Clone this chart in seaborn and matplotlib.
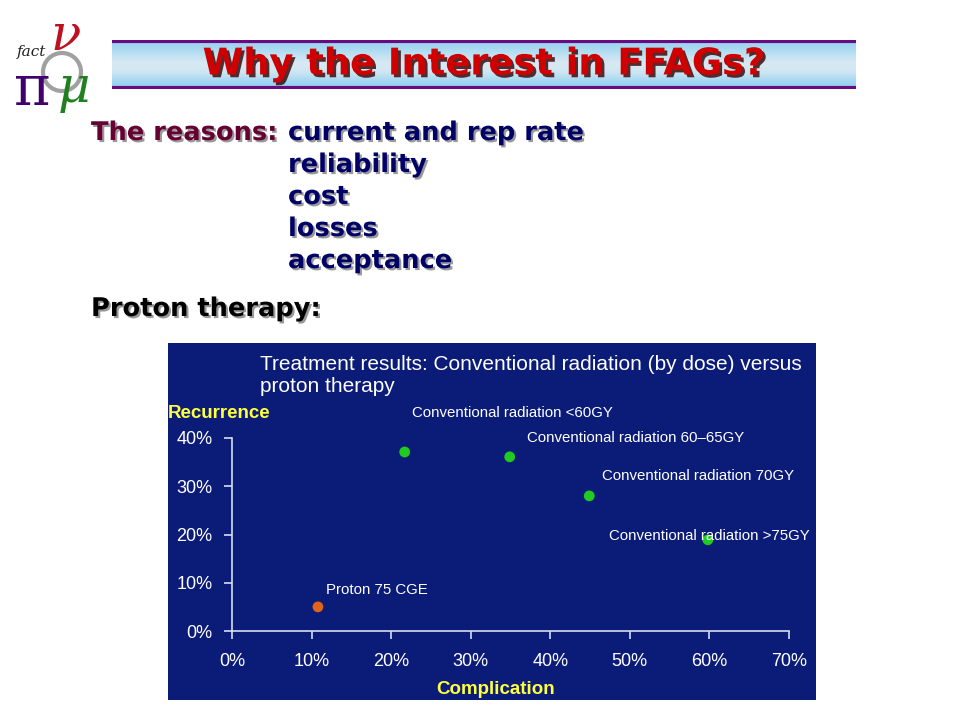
import numpy as np
import pandas as pd
import seaborn as sns
import matplotlib.pyplot as plt
import matplotlib.patheffects as pe
from matplotlib.patches import Circle

# Data
labels = ["Proton 75 CGE", "Conventional radiation <60GY", "Conventional radiation 60\u201365GY",
          "Conventional radiation 70GY", "Conventional radiation >75GY"]
complication = [0.108, 0.217, 0.349, 0.449, 0.598]
recurrence = [0.050, 0.371, 0.361, 0.280, 0.189]
kind = ["Proton", "Conventional", "Conventional", "Conventional", "Conventional"]
label_offsets = [(8, 17), (7, 39), (17, 19), (13, 20), (-99, 4)]  # pixels

x_ticks = [0.0, 0.1, 0.2, 0.3, 0.4, 0.5, 0.6, 0.7]
x_ticklabels = ["0%", "10%", "20%", "30%", "40%", "50%", "60%", "70%"]
y_ticks = [0.0, 0.1, 0.2, 0.3, 0.4]
y_ticklabels = ["0%", "10%", "20%", "30%", "40%"]

reasons = ["current and rep rate", "reliability", "cost", "losses", "acceptance"]

df = pd.DataFrame({"Complication": complication, "Recurrence": recurrence,
                   "kind": kind, "label": labels})

plt.rcParams['font.family'] = ['Liberation Sans', 'DejaVu Sans']

W, H = 960, 720
fig = plt.figure(figsize=(9.6, 7.2), dpi=100)
fig.patch.set_facecolor("white")


def fx(px):
    return px / W


def fy(py):
    return 1 - py / H


def fbox(x0, y0, x1, y1):
    return [fx(x0), fy(y1), fx(x1) - fx(x0), fy(y0) - fy(y1)]


shadow = [pe.withSimplePatchShadow(offset=(1.5, -1.5), shadow_rgbFace="#555555", alpha=0.6)]

# Title banner with gradient
ban = fig.add_axes(fbox(112, 40, 856, 89))
grad = np.array([[0.55], [0.75], [0.92], [0.80], [0.50]])
ban.imshow(grad, aspect="auto", cmap=sns.light_palette("#2fb0f0", as_cmap=True, reverse=True),
           vmin=0, vmax=1, extent=[0, 1, 0, 1], interpolation="bicubic")
ban.set_xlim(0, 1)
ban.set_ylim(0, 1)
ban.axis("off")
ban.axhline(0.97, color="#6a0a80", lw=3)
ban.axhline(0.03, color="#6a0a80", lw=3)
fig.text(fx(484), fy(64), "Why the Interest in FFAGs?", color="#d00000", fontsize=26.5,
         fontweight="bold", family="DejaVu Sans", ha="center", va="center",
         path_effects=[pe.withSimplePatchShadow(offset=(2, -2), shadow_rgbFace="#300000", alpha=0.8)])

# Logo (approximation), drawn in pixel units
logo = fig.add_axes(fbox(0, 0, 120, 120))
logo.set_xlim(0, 120)
logo.set_ylim(120, 0)
logo.axis("off")
logo.add_patch(Circle((62, 72), 19, fill=False, ec="#a0a0a0", lw=3))
logo.text(17, 52, "fact", fontsize=11, style="italic", family="DejaVu Serif", color="#202020", va="center")
logo.text(50, 36, "\u03bd", fontsize=36, style="italic", family="DejaVu Serif", color="#c01020", va="center")
logo.text(14, 90, "\u03c0", fontsize=40, family="DejaVu Serif", color="#400070", va="center")
logo.text(58, 88, "\u03bc", fontsize=36, style="italic", family="DejaVu Serif", color="#208020", va="center")

# Bullet text
fig.text(fx(91), fy(133), "The reasons:", color="#660033", fontsize=18.5, fontweight="bold",
         family="DejaVu Sans", va="center", path_effects=shadow)
for i, r in enumerate(reasons):
    fig.text(fx(288), fy(133 + 32 * i), r, color="#000066", fontsize=18.5, fontweight="bold",
             family="DejaVu Sans", va="center", path_effects=shadow)
fig.text(fx(91), fy(309), "Proton therapy:", color="black", fontsize=18.5, fontweight="bold",
         family="DejaVu Sans", va="center", path_effects=shadow)

# Chart panel background
panel = fig.add_axes(fbox(168, 343, 816, 700))
panel.set_facecolor("#0b1b78")
panel.set_xticks([])
panel.set_yticks([])
for s in panel.spines.values():
    s.set_visible(False)

fig.text(fx(260), fy(376), "Treatment results: Conventional radiation (by dose) versus\nproton therapy",
         color="white", fontsize=15, va="center", linespacing=1.2)
fig.text(fx(168), fy(414), "Recurrence", color="#ffff40", fontsize=13.5, fontweight="bold", va="center")
fig.text(fx(496), fy(689), "Complication", color="#ffff40", fontsize=13.5, fontweight="bold",
         va="center", ha="center")

ax = fig.add_axes(fbox(232, 438, 789, 631))
ax.patch.set_alpha(0)
sns.scatterplot(data=df, x="Complication", y="Recurrence", hue="kind",
                palette={"Proton": "#e0641a", "Conventional": "#1ecb1e"},
                s=60, edgecolor="none", legend=False, ax=ax, zorder=3, clip_on=False)
for lab, xv, yv, (dx, dy) in zip(labels, complication, recurrence, label_offsets):
    ax.annotate(lab, (xv, yv), xytext=(dx, dy), textcoords="offset pixels",
                color="white", fontsize=10.8, va="center", ha="left")

ax.set_xlim(0, 0.7)
ax.set_ylim(0, 0.4)
ax.set_xticks(x_ticks)
ax.set_xticklabels(x_ticklabels)
ax.set_yticks(y_ticks)
ax.set_yticklabels(y_ticklabels)
ax.set_xlabel("")
ax.set_ylabel("")
for side in ["top", "right"]:
    ax.spines[side].set_visible(False)
for side in ["left", "bottom"]:
    ax.spines[side].set_color("#d8dcf0")
    ax.spines[side].set_linewidth(1.2)
ax.tick_params(colors="#d8dcf0", labelcolor="white", labelsize=13, length=6, width=1.2)
ax.tick_params(axis="x", pad=10)
ax.tick_params(axis="y", pad=8)

fig.savefig("out.png", dpi=100)
